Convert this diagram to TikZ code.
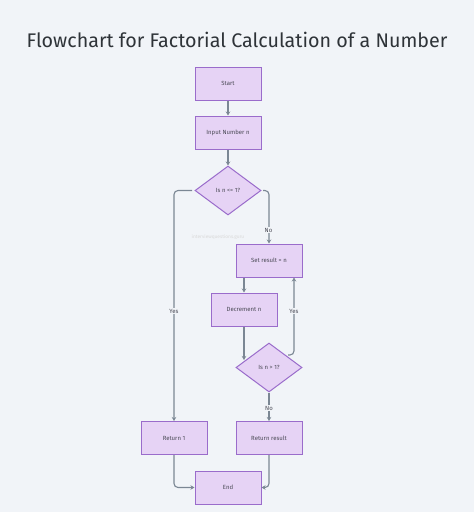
\documentclass[tikz,border=0pt]{standalone}
\usepackage{fontspec}
\setmainfont{Fira Sans}
\usetikzlibrary{arrows.meta,shapes.geometric}
\definecolor{bgc}{HTML}{F1F4F8}
\definecolor{boxfill}{HTML}{E6D3F5}
\definecolor{boxline}{HTML}{9A6CCB}
\definecolor{linec}{HTML}{7B8794}
\definecolor{txtc}{HTML}{4A4A55}
\definecolor{titlec}{HTML}{2E3338}
\begin{document}
\begin{tikzpicture}[x=1pt,y=-1pt,
  procbox/.style={draw=boxline,fill=boxfill,line width=1pt,minimum width=66pt,minimum height=33pt,inner sep=0pt,font=\fontsize{6}{7}\selectfont,text=txtc},
  decbox/.style={draw=boxline,fill=boxfill,line width=1pt,diamond,aspect=1.35,minimum width=66pt,minimum height=49pt,inner sep=0pt,font=\fontsize{6}{7}\selectfont,text=txtc},
  conn/.style={draw=linec,line width=1.1pt,rounded corners=4pt,-{Stealth[length=4pt,width=4.5pt]}},
  lbl/.style={fill=bgc,inner sep=1pt,font=\fontsize{6}{7}\selectfont,text=txtc}]
\fill[bgc] (0,0) rectangle (474,512);
\useasboundingbox (0,0) rectangle (474,512);
\node[font=\fontsize{19.7}{22}\selectfont,text=titlec] (title) at (237,40) {Flowchart for Factorial Calculation of a Number};
\node[font=\fontsize{4.8}{5}\selectfont,text=black!15] (wm) at (218,237) {interviewquestions.guru};
\node[procbox] (start) at (228,83.5) {Start};
\node[procbox] (input) at (228,132.5) {Input Number n};
\node[decbox] (d1) at (228,190.5) {Is n <= 1?};
\node[procbox] (setr) at (269,260.5) {Set result = n};
\node[procbox] (dec) at (244,309.5) {Decrement n};
\node[decbox] (d2) at (269,367.5) {Is n > 1?};
\node[procbox] (ret1) at (174,438) {Return 1};
\node[procbox] (retr) at (269,438) {Return result};
\node[procbox] (endn) at (228,487.5) {End};
\coordinate (d1l) at (192,190.5);
\coordinate (d1r) at (263,190.5);
\coordinate (d2yes) at (288,355);
\draw[conn] (start) -- (input);
\draw[conn] (input) -- (d1);
\draw[conn] (d1l) -| (ret1);
\draw[conn] (d1r) -| (setr);
\draw[conn] (setr.south -| dec) -- (dec);
\draw[conn] (dec.south) -- (dec.south |- 0,360);
\draw[conn] (d2yes) -| (setr.south -| 294,0);
\draw[conn] (d2) -- (retr);
\draw[conn] (ret1) |- (endn);
\draw[conn] (retr) |- (endn);
\node[lbl] (yes1) at (174,311) {Yes};
\node[lbl] (no1) at (268.5,230) {No};
\node[lbl] (yes2) at (294,311) {Yes};
\node[lbl] (no2) at (269,408) {No};
\end{tikzpicture}
\end{document}
